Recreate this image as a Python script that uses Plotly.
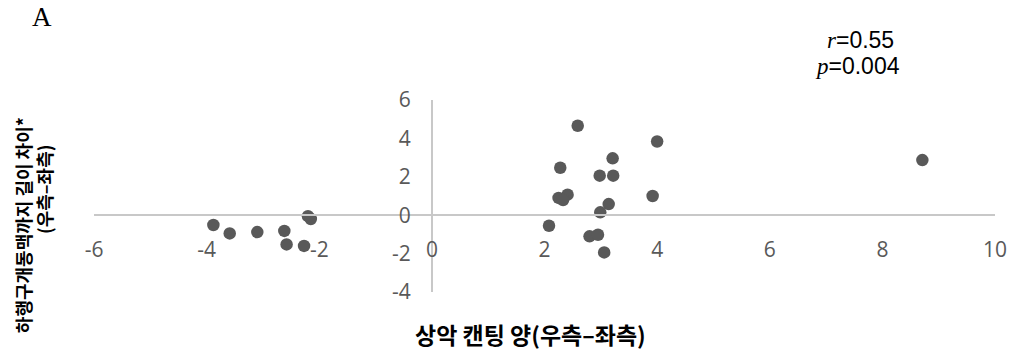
import plotly.graph_objects as go

# Maxillary canting difference (right - left) vs. difference in length to
# the descending palatine artery (right - left)
canting = [2.59, 4.00, 3.21, 2.28, 2.98, 3.22, 2.41, 2.25, 2.33, 3.92, 3.14,
           2.99, 2.08, 2.80, 2.95, 3.06,
           -3.88, -3.59, -3.10, -2.62, -2.58, -2.27, -2.20, -2.15,
           8.71]
length_diff = [4.66, 3.84, 2.96, 2.47, 2.06, 2.06, 1.07, 0.90, 0.79, 1.00, 0.58,
               0.15, -0.55, -1.10, -1.02, -1.94,
               -0.51, -0.95, -0.88, -0.82, -1.52, -1.60, -0.05, -0.20,
               2.87]

x_ticks = [-6, -4, -2, 0, 2, 4, 6, 8, 10]
y_ticks = [-4, -2, 0, 2, 4, 6]
x_range = [-6, 10]
y_range = [-4, 6]

x_title = "상악 캔팅 양(우측–좌측)"
y_title_1 = "하행구개동맥까지 길이 차이*"
y_title_2 = "(우측–좌측)"
panel_label = "A"
r_text = "0.55"
p_text = "0.004"

W, H = 1019, 354
L, R, T, B = 94, 22, 100, 62


def px(x):
    return (x - L) / (W - L - R)


def py(y):
    return (H - B - y) / (H - T - B)


fig = go.Figure(
    go.Scatter(
        x=canting, y=length_diff, mode="markers",
        marker=dict(size=12.5, color="#595959", line=dict(width=0)),
        hoverinfo="skip",
    )
)

tick_font = dict(family="Open Sans, Noto Sans CJK KR, sans-serif", size=21, color="#595959")
# Axes cross at the origin
fig.update_xaxes(
    range=x_range, tickvals=x_ticks, ticktext=[str(v) for v in x_ticks],
    showgrid=False, zeroline=False, showline=True, linecolor="#c8c8c8", linewidth=2,
    anchor="free", position=(0 - y_range[0]) / (y_range[1] - y_range[0]),
    ticks="", tickfont=tick_font, ticklabelstandoff=16,
)
fig.update_yaxes(
    range=y_range, tickvals=y_ticks, ticktext=[str(v) for v in y_ticks],
    showgrid=False, zeroline=False, showline=True, linecolor="#c8c8c8", linewidth=2,
    anchor="free", position=(0 - x_range[0]) / (x_range[1] - x_range[0]),
    ticks="", tickfont=tick_font, ticklabelstandoff=16,
)

kr = "Noto Sans CJK KR, sans-serif"
serif = "Liberation Serif, DejaVu Serif, serif"
sans = "Liberation Sans, Arial, sans-serif"
annotations = [
    dict(x=px(531), y=py(334), text=f"<b>{x_title}</b>",
         font=dict(family=kr, size=23, color="#000000")),
    dict(x=px(23), y=py(225), text=f"<b>{y_title_1}</b>", textangle=-90,
         font=dict(family=kr, size=18, color="#000000")),
    dict(x=px(44), y=py(189), text=f"<b>{y_title_2}</b>", textangle=-90,
         font=dict(family=kr, size=18, color="#000000")),
    dict(x=px(42), y=py(17), text=panel_label,
         font=dict(family=serif, size=27, color="#000000")),
    dict(x=px(898), y=py(40), xanchor="right",
         text=f"<i>r</i><span style='font-family:{sans}'>={r_text}</span>",
         font=dict(family=serif, size=23, color="#000000")),
    dict(x=px(904), y=py(66), xanchor="right",
         text=f"<i>p</i><span style='font-family:{sans}'>={p_text}</span>",
         font=dict(family=serif, size=23, color="#000000")),
]
for a in annotations:
    a.setdefault("xanchor", "center")
    a.update(xref="paper", yref="paper", yanchor="middle", showarrow=False)

fig.update_layout(
    width=W, height=H,
    margin=dict(l=L, r=R, t=T, b=B),
    plot_bgcolor="white", paper_bgcolor="white",
    showlegend=False,
    annotations=annotations,
)

fig.write_html("out.html")
